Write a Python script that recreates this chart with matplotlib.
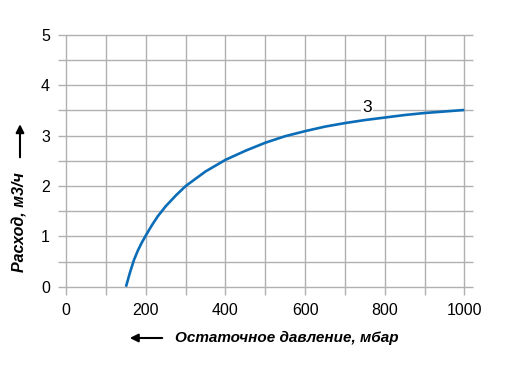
import numpy as np
from matplotlib import pyplot as plt

plt.rcParams['font.family'] = ['Liberation Sans', 'DejaVu Sans']

# curve 3: residual pressure (mbar) vs flow (m3/h)
pressure = [150, 155, 160, 170, 180, 190, 200, 215, 230, 250, 275, 300, 350,
            400, 450, 500, 550, 600, 650, 700, 750, 800, 850, 900, 950, 1000]
flow = [0.0, 0.14, 0.28, 0.53, 0.72, 0.88, 1.02, 1.22, 1.40, 1.60, 1.81, 2.00, 2.29,
        2.52, 2.70, 2.86, 2.99, 3.09, 3.18, 3.25, 3.31, 3.36, 3.41, 3.45, 3.48, 3.51]
curve_label = '3'

x_ticks = [0, 200, 400, 600, 800, 1000]
y_ticks = [0, 1, 2, 3, 4, 5]
x_grid = np.arange(0, 1001, 100)
y_grid = np.arange(0, 5.01, 0.5)

fig = plt.figure(figsize=(5.06, 3.83), dpi=100)
ax = fig.add_axes([0.1144, 0.229, 0.8206, 0.6797])
ax.set_xlim(-21, 1022)
ax.set_ylim(-0.17, 5)

grid_color = '#b0b0b0'
ax.hlines(y_grid, -21, 1022, color=grid_color, lw=1.0, clip_on=False, zorder=1)
ax.vlines(x_grid, -0.17, 5, color=grid_color, lw=1.0, clip_on=False, zorder=1)

ax.plot(pressure, flow, color='#0b6db7', lw=1.9, zorder=3, solid_capstyle='butt')
ax.text(756, 3.56, curve_label, fontsize=12.5, ha='center', va='center', zorder=4,
        bbox=dict(facecolor='white', edgecolor='none', pad=1.0))

for s in ax.spines.values():
    s.set_visible(False)
ax.set_xticks(x_ticks)
ax.set_yticks(y_ticks)
ax.tick_params(length=0, labelsize=11.5)
ax.tick_params(axis='x', pad=5.3)
ax.tick_params(axis='y', pad=5.8)

# axis titles with arrows
fig.text(0.0395, 0.4204, 'Расход, м3/ч', rotation=90, ha='center', va='center',
         fontsize=11.5, fontweight='bold', fontstyle='italic')
fig.text(0.567, 0.1175, 'Остаточное давление, мбар', ha='center', va='center',
         fontsize=11, fontweight='bold', fontstyle='italic')
ax.annotate('', xy=(0.0395, 0.683), xytext=(0.0395, 0.582), xycoords='figure fraction',
            arrowprops=dict(arrowstyle='-|>', color='black', lw=1.5, mutation_scale=12))
ax.annotate('', xy=(0.251, 0.1175), xytext=(0.326, 0.1175), xycoords='figure fraction',
            arrowprops=dict(arrowstyle='-|>', color='black', lw=1.5, mutation_scale=12))

plt.savefig('out.png', dpi=100)
